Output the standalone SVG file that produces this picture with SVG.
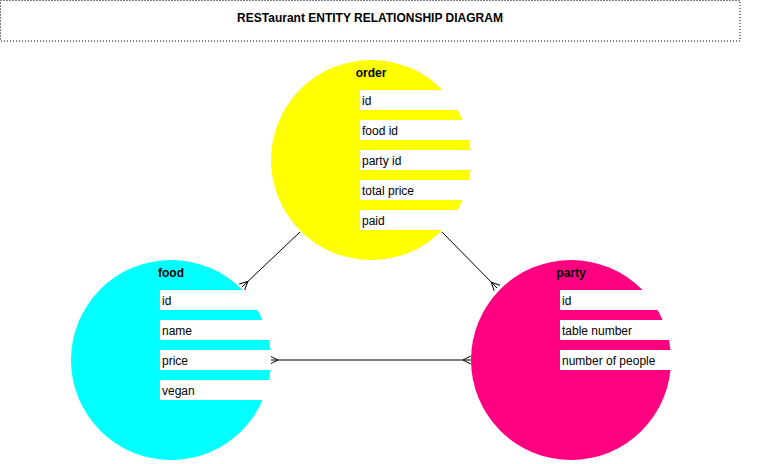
<svg xmlns="http://www.w3.org/2000/svg" width="762" height="464" viewBox="0 0 762 464">
<style>
.title{font-family:"Liberation Sans",Arial,sans-serif;font-size:12px;font-weight:bold;fill:#000}
.hdr{font-family:"Liberation Sans",Arial,sans-serif;font-size:12px;font-weight:bold;fill:#000;text-anchor:middle}
.row{fill:#fff}
.txt{font-family:"Liberation Sans",Arial,sans-serif;font-size:12px;fill:#000}
.conn{stroke:#000;stroke-width:1;fill:none}
</style>
<defs>
<marker id="many" markerUnits="userSpaceOnUse" markerWidth="20" markerHeight="20" viewBox="0 0 20 20" refX="10" refY="10" orient="auto-start-reverse" overflow="visible">
<path d="M10,6 L2,10 L10,14" fill="none" stroke="#000" stroke-width="1"/>
</marker>
</defs>
<rect width="762" height="464" fill="#fff"/>
<g id="title">
<rect x="0.5" y="0.5" width="739.5" height="40.5" fill="none" stroke="#000" stroke-width="1" stroke-dasharray="1,2"/>
<text class="title" x="370" y="22" text-anchor="middle">RESTaurant ENTITY RELATIONSHIP DIAGRAM</text>
</g>
<g id="connectors">
<line class="conn" x1="300" y1="232" x2="242" y2="287" marker-end="url(#many)"/>
<line class="conn" x1="442" y1="232" x2="497" y2="288" marker-end="url(#many)"/>
<line class="conn" x1="270" y1="360" x2="471" y2="360" marker-start="url(#many)" marker-end="url(#many)"/>
</g>
<g id="order">
<circle cx="371" cy="160" r="100" fill="#ffff00"/>
<text class="hdr" x="371" y="77">order</text>
<rect class="row" x="360" y="90" width="111" height="20"/>
<rect class="row" x="360" y="120" width="111" height="20"/>
<rect class="row" x="360" y="150" width="111" height="20"/>
<rect class="row" x="360" y="180" width="111" height="20"/>
<rect class="row" x="360" y="210" width="111" height="20"/>
<text class="txt" x="362" y="104.5">id</text>
<text class="txt" x="362" y="134.5">food id</text>
<text class="txt" x="362" y="164.5">party id</text>
<text class="txt" x="362" y="194.5">total price</text>
<text class="txt" x="362" y="224.5">paid</text>
</g>
<g id="food">
<circle cx="171" cy="360" r="100" fill="#00ffff"/>
<text class="hdr" x="171" y="277">food</text>
<rect class="row" x="160" y="290" width="111" height="20"/>
<rect class="row" x="160" y="320" width="111" height="20"/>
<rect class="row" x="160" y="350" width="111" height="20"/>
<rect class="row" x="160" y="380" width="111" height="20"/>
<text class="txt" x="162" y="304.5">id</text>
<text class="txt" x="162" y="334.5">name</text>
<text class="txt" x="162" y="364.5">price</text>
<text class="txt" x="162" y="394.5">vegan</text>
</g>
<g id="party">
<circle cx="571" cy="360" r="100" fill="#ff0080"/>
<text class="hdr" x="571" y="277">party</text>
<rect class="row" x="560" y="290" width="111" height="20"/>
<rect class="row" x="560" y="320" width="111" height="20"/>
<rect class="row" x="560" y="350" width="111" height="20"/>
<text class="txt" x="562" y="304.5">id</text>
<text class="txt" x="562" y="334.5">table number</text>
<text class="txt" x="562" y="364.5">number of people</text>
</g>
</svg>
